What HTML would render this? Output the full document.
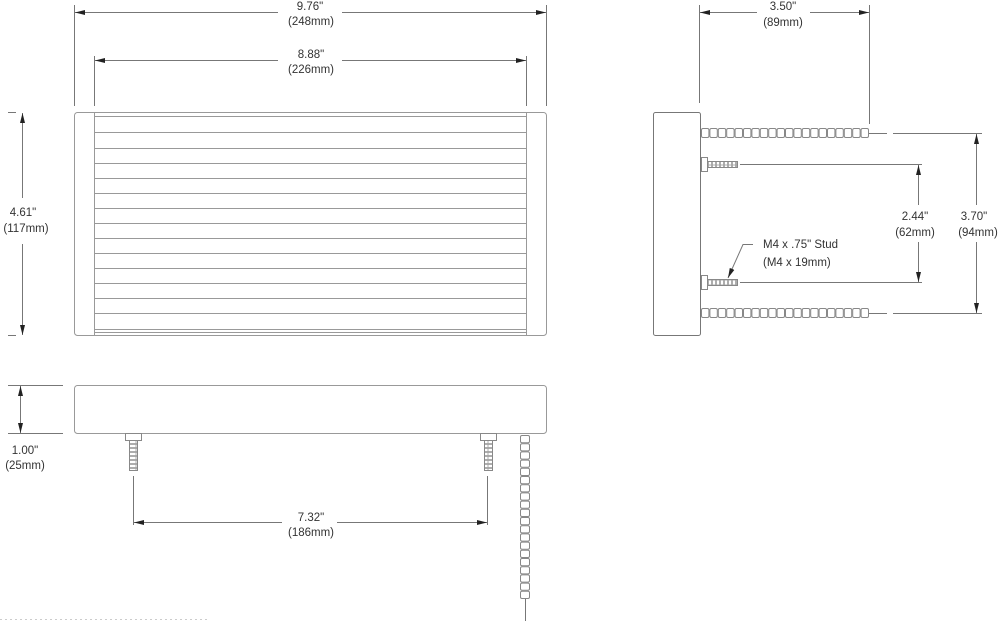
<!DOCTYPE html>
<html><head><meta charset="utf-8"><style>
html,body{margin:0;padding:0;background:#fff;}
svg{display:block;}
text{font-family:"Liberation Sans",sans-serif;font-size:11.5px;fill:#333;text-anchor:middle;}
</style></head><body>
<svg width="1000" height="621" viewBox="0 0 1000 621" xmlns="http://www.w3.org/2000/svg">
<defs>
<marker id="a" markerWidth="10" markerHeight="6" refX="10" refY="3" orient="auto-start-reverse" markerUnits="userSpaceOnUse"><path d="M0,0.5 L10,3 L0,5.5 z" fill="#222"/></marker>
<pattern id="th" x="0" y="0" width="4" height="5" patternUnits="userSpaceOnUse"><rect x="0.5" y="0" width="3" height="5" fill="#fff" stroke="#999" stroke-width="0.8"/></pattern>
<pattern id="tv" x="0" y="0" width="8" height="4" patternUnits="userSpaceOnUse"><rect x="0" y="0.5" width="8" height="3" fill="#fff" stroke="#999" stroke-width="0.8"/></pattern>
<rect id="bh" x="0" y="0" width="7.4" height="9" rx="1.5" fill="#fff" stroke="#888" stroke-width="1"/>
<rect id="bv" x="0" y="0" width="9" height="7.2" rx="1.5" fill="#fff" stroke="#888" stroke-width="1"/>
<g id="rowh">
<use href="#bh" x="0"/><use href="#bh" x="8.4"/><use href="#bh" x="16.8"/><use href="#bh" x="25.2"/><use href="#bh" x="33.6"/><use href="#bh" x="42"/><use href="#bh" x="50.4"/><use href="#bh" x="58.8"/><use href="#bh" x="67.2"/><use href="#bh" x="75.6"/><use href="#bh" x="84"/><use href="#bh" x="92.4"/><use href="#bh" x="100.8"/><use href="#bh" x="109.2"/><use href="#bh" x="117.6"/><use href="#bh" x="126"/><use href="#bh" x="134.4"/><use href="#bh" x="142.8"/><use href="#bh" x="151.2"/><use href="#bh" x="159.6"/>
</g>
</defs>
<g stroke="#777" stroke-width="1" fill="none">
<rect x="74.5" y="112.5" width="472" height="223" rx="3" stroke="#999"/>
<line x1="94.5" y1="112" x2="94.5" y2="336" stroke="#999"/>
<line x1="526.5" y1="112" x2="526.5" y2="336" stroke="#999"/>
<g stroke="#999">
<line x1="94" y1="116.5" x2="526" y2="116.5"/>
<line x1="94" y1="132.5" x2="526" y2="132.5"/>
<line x1="94" y1="148.5" x2="526" y2="148.5"/>
<line x1="94" y1="163.5" x2="526" y2="163.5"/>
<line x1="94" y1="178.5" x2="526" y2="178.5"/>
<line x1="94" y1="193.5" x2="526" y2="193.5"/>
<line x1="94" y1="208.5" x2="526" y2="208.5"/>
<line x1="94" y1="223.5" x2="526" y2="223.5"/>
<line x1="94" y1="238.5" x2="526" y2="238.5"/>
<line x1="94" y1="253.5" x2="526" y2="253.5"/>
<line x1="94" y1="268.5" x2="526" y2="268.5"/>
<line x1="94" y1="283.5" x2="526" y2="283.5"/>
<line x1="94" y1="298.5" x2="526" y2="298.5"/>
<line x1="94" y1="313.5" x2="526" y2="313.5"/>
<line x1="94" y1="329.5" x2="526" y2="329.5"/>
<line x1="94" y1="332.5" x2="526" y2="332.5"/>
</g>
<line x1="74.5" y1="5" x2="74.5" y2="106"/>
<line x1="546.5" y1="5" x2="546.5" y2="106"/>
<line x1="94.5" y1="56" x2="94.5" y2="106"/>
<line x1="526.5" y1="56" x2="526.5" y2="106"/>
<line x1="75" y1="12.5" x2="278" y2="12.5" marker-start="url(#a)"/>
<line x1="342" y1="12.5" x2="546" y2="12.5" marker-end="url(#a)"/>
<line x1="95" y1="60.5" x2="278" y2="60.5" marker-start="url(#a)"/>
<line x1="342" y1="60.5" x2="526" y2="60.5" marker-end="url(#a)"/>
<line x1="8" y1="112.5" x2="16" y2="112.5"/>
<line x1="8" y1="335.5" x2="16" y2="335.5"/>
<line x1="22.5" y1="113" x2="22.5" y2="198" marker-start="url(#a)"/>
<line x1="22.5" y1="244" x2="22.5" y2="335" marker-end="url(#a)"/>
<rect x="653.5" y="112.5" width="47" height="223" rx="2"/>
<line x1="699.5" y1="5" x2="699.5" y2="103"/>
<line x1="869.5" y1="5" x2="869.5" y2="124"/>
<line x1="700" y1="12.5" x2="757" y2="12.5" marker-start="url(#a)"/>
<line x1="810" y1="12.5" x2="869" y2="12.5" marker-end="url(#a)"/>
<use href="#rowh" x="701.5" y="128.5"/>
<line x1="869" y1="133.5" x2="887" y2="133.5"/>
<line x1="893" y1="133.5" x2="982" y2="133.5"/>
<use href="#rowh" x="701.5" y="308.5"/>
<line x1="869" y1="313.5" x2="887" y2="313.5"/>
<line x1="893" y1="313.5" x2="982" y2="313.5"/>
<rect x="701.5" y="157.5" width="6" height="14" stroke="#888"/>
<rect x="707.5" y="161.5" width="30" height="6" fill="url(#th)" stroke="#888"/>
<line x1="740" y1="164.5" x2="922" y2="164.5"/>
<rect x="701.5" y="275.5" width="6" height="14" stroke="#888"/>
<rect x="707.5" y="279.5" width="30" height="6" fill="url(#th)" stroke="#888"/>
<line x1="740" y1="282.5" x2="922" y2="282.5"/>
<line x1="918.5" y1="165" x2="918.5" y2="205" marker-start="url(#a)"/>
<line x1="918.5" y1="242" x2="918.5" y2="282" marker-end="url(#a)"/>
<line x1="976.5" y1="134" x2="976.5" y2="205" marker-start="url(#a)"/>
<line x1="976.5" y1="242" x2="976.5" y2="313" marker-end="url(#a)"/>
<polyline points="753,244.5 743,244.5 728,278" marker-end="url(#a)"/>
<rect x="74.5" y="385.5" width="472" height="48" rx="3" stroke="#999"/>
<line x1="8" y1="385.5" x2="63" y2="385.5"/>
<line x1="8" y1="433.5" x2="63" y2="433.5"/>
<line x1="20.5" y1="386" x2="20.5" y2="433" marker-start="url(#a)" marker-end="url(#a)"/>
<rect x="125.5" y="433.5" width="16" height="7" stroke="#888"/>
<rect x="129.5" y="440.5" width="8" height="30" fill="url(#tv)" stroke="#888"/>
<rect x="480.5" y="433.5" width="16" height="7" stroke="#888"/>
<rect x="484.5" y="440.5" width="8" height="30" fill="url(#tv)" stroke="#888"/>
<line x1="133.5" y1="476" x2="133.5" y2="525"/>
<line x1="487.5" y1="476" x2="487.5" y2="525"/>
<line x1="134" y1="522.5" x2="282" y2="522.5" marker-start="url(#a)"/>
<line x1="337" y1="522.5" x2="487" y2="522.5" marker-end="url(#a)"/>
<g transform="translate(520.5,435.5)">
<use href="#bv" y="0"/><use href="#bv" y="8.2"/><use href="#bv" y="16.4"/><use href="#bv" y="24.6"/><use href="#bv" y="32.8"/><use href="#bv" y="41"/><use href="#bv" y="49.2"/><use href="#bv" y="57.4"/><use href="#bv" y="65.6"/><use href="#bv" y="73.8"/><use href="#bv" y="82"/><use href="#bv" y="90.2"/><use href="#bv" y="98.4"/><use href="#bv" y="106.6"/><use href="#bv" y="114.8"/><use href="#bv" y="123"/><use href="#bv" y="131.2"/><use href="#bv" y="139.4"/><use href="#bv" y="147.6"/><use href="#bv" y="155.8"/>
</g>
<line x1="525.5" y1="599" x2="525.5" y2="621"/>
<line x1="0" y1="619.5" x2="207" y2="619.5" stroke="#ccc" stroke-dasharray="2,3"/>
</g>
<text x="310" y="10">9.76"</text>
<text x="311" y="25">(248mm)</text>
<text x="311" y="58">8.88"</text>
<text x="311" y="73">(226mm)</text>
<text x="23" y="216">4.61"</text>
<text x="26" y="232">(117mm)</text>
<text x="783" y="10">3.50"</text>
<text x="783" y="26">(89mm)</text>
<text x="915" y="220">2.44"</text>
<text x="915" y="236">(62mm)</text>
<text x="974" y="220">3.70"</text>
<text x="978" y="236">(94mm)</text>
<text x="763" y="248" style="text-anchor:start">M4 x .75" Stud</text>
<text x="763" y="266" style="text-anchor:start">(M4 x 19mm)</text>
<text x="25" y="454">1.00"</text>
<text x="25" y="469">(25mm)</text>
<text x="311" y="521">7.32"</text>
<text x="311" y="536">(186mm)</text>
</svg>
</body></html>
